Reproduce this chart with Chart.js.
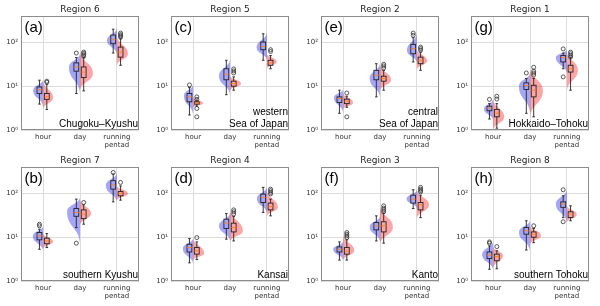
<!DOCTYPE html>
<html>
<head>
<meta charset="utf-8">
<script src="https://cdn.jsdelivr.net/npm/chart.js@4.4.1/dist/chart.umd.min.js"></script>
<style>
  body { margin: 0; background: #fff; }
  #wrap { position: relative; width: 600px; height: 306px; }
  .panel { position: absolute; width: 150px; height: 153px; }
</style>
</head>
<body>
<div id="wrap"></div>
<script>
const categories = ["hour", "day", ["running", "pentad"]];
const yTicks = [1, 10, 100];
const yTickLabels = ["10\u2070", "10\u00b9", "10\u00b2"];

// panels in reading order: top row a c e g, bottom row b d f h
const regionTitles = ["Region 6", "Region 5", "Region 2", "Region 1", "Region 7", "Region 4", "Region 3", "Region 8"];
const panelLabels = ["(a)", "(c)", "(e)", "(g)", "(b)", "(d)", "(f)", "(h)"];
const regionNames = [
  ["Chugoku\u2013Kyushu"], ["western", "Sea of Japan"], ["central", "Sea of Japan"], ["Hokkaido\u2013Tohoku"],
  ["southern Kyushu"], ["Kansai"], ["Kanto"], ["southern Tohoku"]
];

// box: [whisker low, q1, median, q3, whisker high] per category
const blueBoxes = [
  [[3.9, 6.8, 8.3, 9.6, 13.7], [6.8, 22, 27.5, 34, 45], [57, 93, 115, 147, 200]],
  [[2.2, 4.4, 5.7, 6.8, 9.3], [6.4, 14, 18.8, 25, 39], [39, 68, 81, 102, 157]],
  [[2.4, 4.25, 5.2, 5.7, 8.1], [5.7, 14, 17.8, 23, 32.6], [35.8, 55, 72, 90, 128]],
  [[1.78, 2.75, 3.16, 3.5, 4.0], [2.4, 8.4, 10.4, 11.9, 15], [25, 35.8, 45, 50, 57]],
  [[5.3, 8.7, 10.7, 12.8, 15.2], [16.6, 30, 36.7, 45, 74], [64, 125, 155, 195, 277]],
  [[2.6, 4.6, 5.8, 6.9, 9.3], [9, 15.8, 20.9, 25.8, 34.6], [36.7, 62, 81, 96, 137]],
  [[3.0, 4.6, 5.3, 6.0, 7.8], [8.2, 14.7, 18.1, 21.6, 30.7], [45, 60, 74, 91, 121]],
  [[1.85, 3.25, 3.9, 4.6, 6.3], [5.1, 11.7, 14, 16.6, 23.7], [28, 48, 57, 64, 88]]
];
const redBoxes = [
  [[2.95, 5.0, 5.7, 6.8, 11], [7.8, 15.7, 21, 27.5, 45], [30, 46, 60, 78, 121]],
  [[3.5, 3.9, 4.1, 4.4, 4.8], [8.1, 10, 11.5, 13, 16.3], [25, 30, 34, 39, 50]],
  [[3.3, 4.0, 4.56, 5.06, 5.9], [8.1, 13, 15, 16.9, 23], [23, 32.6, 39, 46, 60]],
  [[1.1, 2.0, 2.4, 2.95, 4.0], [2.0, 5.7, 8.1, 10.5, 15], [8.1, 21, 25, 30, 46]],
  [[5.8, 7.1, 8.2, 9.5, 12.1], [19.8, 26.5, 33.5, 42, 55], [70, 88, 100, 110, 148]],
  [[3.1, 4.1, 4.9, 5.8, 7.8], [8.2, 13.2, 16.6, 20.9, 29.6], [30.7, 42, 50, 60, 74]],
  [[3.0, 4.1, 4.8, 5.8, 8.7], [7.3, 13.2, 18.1, 22.5, 35.6], [28, 42, 55, 62, 91]],
  [[1.9, 2.9, 3.6, 4.1, 4.9], [7.5, 10, 11.7, 13.2, 15.8], [23.7, 28, 33.6, 38, 52]]
];

const blueOutliers = [
  [[], [57], []],
  [[10.7], [], []],
  [[], [], [145, 163]],
  [[5], [20], [16.3, 71]],
  [[18.2, 19.8], [7.3], [300]],
  [[], [], []],
  [[], [], []],
  [[7.3, 7.8], [], [22.5, 121]]
];
const redOutliers = [
  [[12.3, 13], [48, 52, 56, 60], [131, 141, 150, 163]],
  [[2, 3.1, 5, 5.7], [20, 22.3, 24.8], [62, 68]],
  [[2, 7], [26, 29, 31.6], [66, 72, 78]],
  [[5.1, 5.9], [18, 20, 22, 27], [46, 50, 55, 60]],
  [[], [62], [178]],
  [[9.8], [34, 38, 42], [97, 105, 115, 125]],
  [[9.8, 10.7, 11.7, 12.8], [38, 42, 46, 52], [108, 116, 125, 137]],
  [[6.1], [18.2], []]
];

// violin: [low end, mode, high end, max half-width in category units]
const blueViolins = [
  [[3.5, 8, 14, 0.27], [7, 27, 55, 0.3], [55, 110, 210, 0.27]],
  [[2.3, 6, 11, 0.25], [6.5, 17, 40, 0.3], [40, 75, 165, 0.28]],
  [[2.5, 5.5, 8.5, 0.25], [5.7, 15, 33, 0.28], [35, 65, 160, 0.27]],
  [[1.7, 3, 5, 0.25], [2.5, 10, 20, 0.3], [20, 45, 70, 0.3]],
  [[5, 10.5, 18, 0.28], [7.5, 38, 80, 0.35], [65, 150, 290, 0.3]],
  [[2.5, 5.5, 9.5, 0.28], [8.5, 18, 35, 0.3], [36, 75, 140, 0.27]],
  [[3, 5.3, 8, 0.27], [8, 17, 30, 0.28], [45, 75, 120, 0.28]],
  [[1.8, 4, 8, 0.3], [5, 13, 24, 0.3], [22, 57, 120, 0.3]]
];
const redViolins = [
  [[3, 5.5, 13, 0.27], [8, 20, 60, 0.35], [30, 55, 140, 0.3]],
  [[3.3, 4.1, 5.5, 0.27], [8, 11.5, 17, 0.3], [25, 36, 55, 0.27]],
  [[3, 4.2, 7, 0.27], [8, 14, 30, 0.3], [24, 38, 70, 0.28]],
  [[1, 2, 5, 0.3], [2, 8, 25, 0.35], [8, 23, 60, 0.3]],
  [[5.5, 8, 12, 0.27], [19, 35, 70, 0.3], [70, 100, 150, 0.3]],
  [[3, 4.3, 9.5, 0.3], [8, 14, 42, 0.35], [30, 48, 115, 0.3]],
  [[3, 5, 11, 0.3], [7, 17, 50, 0.35], [27, 55, 120, 0.33]],
  [[2, 3.8, 6, 0.27], [7, 11, 18, 0.3], [22, 33, 52, 0.27]]
];

const BLUE_FILL = "rgba(20, 20, 240, 0.38)";
const RED_FILL = "rgba(245, 20, 20, 0.38)";
const BOX_OFFSET = 0.1;
const BOX_HALF = 0.065;
const CAP_HALF = 0.035;

function drawViolin(ctx, xs, ys, idx, violin, side, fill) {
  const [lo, mode, hi, w] = violin;
  const cx = xs.getPixelForValue(idx);
  const dx = (xs.getPixelForValue(idx + w) - cx) * side;
  const yLo = ys.getPixelForValue(lo);
  const yMode = ys.getPixelForValue(mode);
  const yHi = ys.getPixelForValue(hi);

  ctx.beginPath();
  ctx.moveTo(cx, yLo);
  ctx.bezierCurveTo(cx + dx * 0.1, yLo - (yLo - yMode) * 0.5, cx + dx, yMode + (yLo - yMode) * 0.5, cx + dx, yMode);
  ctx.bezierCurveTo(cx + dx, yMode - (yMode - yHi) * 0.5, cx + dx * 0.1, yHi + (yMode - yHi) * 0.5, cx, yHi);
  ctx.closePath();
  ctx.fillStyle = fill;
  ctx.fill();
}

function drawBox(ctx, xs, ys, pos, box) {
  const [wl, q1, med, q3, wh] = box;
  const cx = xs.getPixelForValue(pos);
  const half = xs.getPixelForValue(pos + BOX_HALF) - cx;
  const cap = xs.getPixelForValue(pos + CAP_HALF) - cx;
  const py = (v) => ys.getPixelForValue(v);

  ctx.strokeStyle = "#222";
  ctx.lineWidth = 0.9;
  ctx.beginPath();
  ctx.moveTo(cx, py(wl));
  ctx.lineTo(cx, py(q1));
  ctx.moveTo(cx, py(q3));
  ctx.lineTo(cx, py(wh));
  ctx.moveTo(cx - cap, py(wl));
  ctx.lineTo(cx + cap, py(wl));
  ctx.moveTo(cx - cap, py(wh));
  ctx.lineTo(cx + cap, py(wh));
  ctx.stroke();
  ctx.strokeRect(cx - half, py(q3), half * 2, py(q1) - py(q3));

  ctx.strokeStyle = "#ff7f0e";
  ctx.beginPath();
  ctx.moveTo(cx - half, py(med));
  ctx.lineTo(cx + half, py(med));
  ctx.stroke();
}

const violinBoxPlugin = {
  id: "violinBox",
  beforeDatasetsDraw(chart, args, opts) {
    const { ctx, chartArea, scales } = chart;
    const p = opts.panel;
    ctx.save();
    ctx.beginPath();
    ctx.rect(chartArea.left, chartArea.top, chartArea.right - chartArea.left, chartArea.bottom - chartArea.top);
    ctx.clip();
    categories.forEach((_, i) => {
      drawViolin(ctx, scales.x, scales.y, i, blueViolins[p][i], -1, BLUE_FILL);
      drawViolin(ctx, scales.x, scales.y, i, redViolins[p][i], 1, RED_FILL);
    });
    categories.forEach((_, i) => {
      drawBox(ctx, scales.x, scales.y, i - BOX_OFFSET, blueBoxes[p][i]);
      drawBox(ctx, scales.x, scales.y, i + BOX_OFFSET, redBoxes[p][i]);
    });
    ctx.restore();
  },
  afterDraw(chart, args, opts) {
    const { ctx, chartArea } = chart;
    const p = opts.panel;
    ctx.save();
    ctx.strokeStyle = "#8c8c8c";
    ctx.lineWidth = 1;
    ctx.strokeRect(chartArea.left + 0.5, chartArea.top + 0.5, chartArea.right - chartArea.left - 1, chartArea.bottom - chartArea.top - 1);

    ctx.fillStyle = "#222";
    ctx.font = "9px 'DejaVu Sans'";
    ctx.textAlign = "center";
    ctx.textBaseline = "middle";
    ctx.fillText(regionTitles[p], (chartArea.left + chartArea.right) / 2, chartArea.top - 6.5);

    ctx.fillStyle = "#000";
    ctx.font = "15px 'Liberation Sans'";
    ctx.textAlign = "left";
    ctx.fillText(panelLabels[p], chartArea.left + 3.5, chartArea.top + 12);

    ctx.font = "10px 'Liberation Sans'";
    ctx.textAlign = "right";
    ctx.textBaseline = "alphabetic";
    const lines = regionNames[p];
    lines.forEach((line, k) => {
      const y = chartArea.bottom - 3.5 - (lines.length - 1 - k) * 11.5;
      ctx.fillText(line, chartArea.right - 1, y);
    });
    ctx.restore();
  }
};

function outlierPoints(list, off) {
  const pts = [];
  list.forEach((vals, i) => vals.forEach((v) => pts.push({ x: i + off, y: v })));
  return pts;
}

const wrap = document.getElementById("wrap");

regionTitles.forEach((_, p) => {
  const div = document.createElement("div");
  div.className = "panel";
  div.style.left = (p % 4) * 150 + "px";
  div.style.top = (p < 4 ? 0 : 151) + "px";
  const canvas = document.createElement("canvas");
  canvas.width = 150;
  canvas.height = 153;
  div.appendChild(canvas);
  wrap.appendChild(div);

  const pointStyle = {
    type: "scatter",
    pointRadius: 2,
    pointBorderWidth: 0.8,
    pointBorderColor: "#333",
    pointBackgroundColor: "rgba(0,0,0,0)"
  };

  new Chart(canvas.getContext("2d"), {
    type: "scatter",
    data: {
      datasets: [
        { ...pointStyle, data: outlierPoints(blueOutliers[p], -BOX_OFFSET) },
        { ...pointStyle, data: outlierPoints(redOutliers[p], BOX_OFFSET) }
      ]
    },
    options: {
      responsive: false,
      animation: false,
      events: [],
      layout: { padding: { top: 16, right: 11, left: 0, bottom: 0 } },
      plugins: {
        legend: { display: false },
        tooltip: { enabled: false },
        violinBox: { panel: p }
      },
      scales: {
        x: {
          type: "linear",
          min: -0.6,
          max: 2.6,
          afterBuildTicks: (scale) => { scale.ticks = categories.map((_, i) => ({ value: i })); },
          afterFit: (scale) => { scale.height = 23; },
          ticks: {
            callback: (v) => categories[v],
            font: { family: "DejaVu Sans", size: 7 },
            color: "#333",
            padding: 3,
            maxRotation: 0
          },
          grid: { color: "#dcdcdc", drawTicks: false },
          border: { display: false }
        },
        y: {
          type: "logarithmic",
          min: 1,
          max: 400,
          afterBuildTicks: (scale) => { scale.ticks = yTicks.map((v) => ({ value: v })); },
          afterFit: (scale) => { scale.width = 21; },
          ticks: {
            callback: (v) => yTickLabels[yTicks.indexOf(v)],
            font: { family: "DejaVu Sans", size: 7 },
            color: "#333",
            padding: 3
          },
          grid: { color: "#dcdcdc", drawTicks: false },
          border: { display: false }
        }
      }
    },
    plugins: [violinBoxPlugin]
  });
});
</script>
</body>
</html>
